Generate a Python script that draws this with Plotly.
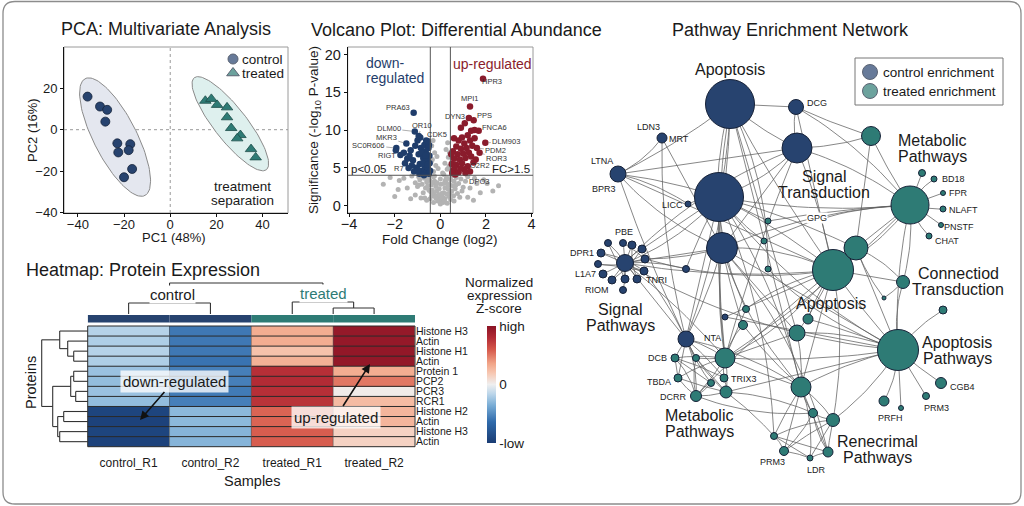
import numpy as np
import plotly.graph_objects as go

W, H = 1024, 506
FONT = "Liberation Sans, Arial, Helvetica, sans-serif"
INK = "#1a1a1a"
NAVY = "#27436f"
TEAL = "#2e7b75"
DOWN_C = "#1f3d6b"
UP_C = "#8a1c2c"
NS_C = "#b3b3b3"

# ---------------- PCA scores ----------------
control_pc1 = [-35.8, -30.4, -27.3, -28.1, -22.9, -22.5, -17.3, -18.0, -16.5, -20.0]
control_pc2 = [16.0, 11.2, 9.6, 3.9, -6.6, -11.0, -7.0, -9.9, -19.0, -23.0]
treated_pc1 = [15.2, 17.8, 20.3, 24.6, 24.6, 26.4, 30.4, 29.0, 35.0, 37.0]
treated_pc2 = [14.0, 14.9, 12.0, 10.8, 6.0, 0.8, -2.6, -4.2, -9.4, -13.4]

# ---------------- Volcano ----------------
fc_cut = 0.44
p_cut = 4.0
down_named = ["PRA63", "DLM00", "OR10", "CDK5", "MKR3", "SC0R606", "RIGT", "R7"]
down_named_fc = [-1.17, -1.12, -0.95, -0.55, -1.49, -1.93, -1.75, -1.39]
down_named_p = [12.3, 9.8, 9.2, 8.5, 8.2, 7.6, 6.7, 4.95]
down_fc = [-1.95, -1.6, -1.45, -1.3, -1.2, -1.1, -1.0, -0.95, -0.9, -0.85, -0.8, -0.75, -0.7, -0.68,
           -0.65, -0.6, -0.58, -0.55, -0.52, -0.5, -0.48, -0.47, -1.05, -1.15, -0.92, -1.55, -1.25,
           -0.72, -0.62, -0.88, -0.98, -0.78, -0.6, -0.5, -1.35, -0.45, -0.82, -0.66, -0.56]
down_p = [7.3, 7.0, 6.2, 7.3, 6.0, 7.9, 8.6, 6.8, 5.5, 7.6, 4.6, 6.3, 8.0, 5.2,
          7.2, 4.4, 6.0, 5.0, 7.6, 4.2, 6.6, 5.6, 5.0, 4.5, 4.2, 5.6, 5.3,
          4.0, 8.6, 9.0, 4.7, 5.6, 6.8, 8.0, 6.6, 4.6, 7.0, 6.6, 5.4]
up_named = ["HPR3", "MPI1", "PPS", "DYN3", "FNCA6", "DLM903", "PDM2", "ROR3", "O2R2", "DPO3"]
up_named_fc = [1.87, 1.3, 1.46, 1.07, 1.68, 1.97, 1.6, 1.72, 1.45, 1.1]
up_named_p = [16.8, 13.1, 11.3, 10.9, 9.9, 8.3, 7.6, 7.0, 5.7, 4.3]
up_fc = [1.5, 1.35, 1.2, 0.95, 0.6, 0.8, 1.05, 1.3, 1.5, 0.7, 0.9, 1.15, 1.4, 0.55, 0.75, 1.0,
         1.25, 0.6, 0.85, 1.1, 1.35, 0.5, 0.7, 0.95, 1.2, 0.55, 0.8, 1.05, 1.3, 0.65, 0.48, 0.9,
         1.25, 1.55, 0.62, 0.52, 0.88]
up_p = [10.0, 9.9, 9.3, 9.0, 8.9, 8.6, 8.2, 8.6, 8.9, 7.8, 7.5, 7.6, 7.9, 7.2, 6.8, 6.9,
        7.0, 6.2, 6.1, 6.3, 6.5, 5.5, 5.4, 5.6, 5.2, 4.6, 4.4, 4.8, 4.5, 4.1, 6.8, 10.3,
        11.6, 6.1, 5.0, 4.3, 4.9]
ns_fc = [0.0, 0.05, -0.05, 0.1, -0.1, 0.15, -0.15, 0.2, -0.2, 0.25, -0.25, 0.3, -0.3, 0.12, -0.12,
         0.2, -0.2, 0.28, -0.28, 0.35, -0.35, 0.4, -0.4, 0.45, -0.45, 0.5, -0.5, 0.38, -0.38, 0.5,
         -0.5, 0.55, -0.55, 0.6, -0.6, 0.7, -0.7, 0.65, -0.65, 0.8, -0.8, 0.9, -0.9, 0.75, -0.75,
         1.0, -1.0, 1.1, -1.1, 0.3, -0.3, 0.45, -0.45, 0.02, 0.0, -0.05, 0.05,
         -0.3, 0.3, -0.2, 0.2, -0.35, 0.35, -0.25, 0.25, -0.38, 0.1, -0.1, 0.38, -0.4, 0.4, -0.15,
         0.15, 0.32, -0.32,
         -2.5, -1.8, -2.0, -1.45, -0.95, -1.1, -1.6, -1.3, -1.85, 2.05, 2.55, 1.75, 1.3, 1.5, 1.2,
         1.9, 1.45, 2.3, 1.6, -2.2, 0.85, -0.85, 0.6, -0.6, 1.2, -1.25,
         0.08, -0.08, 0.18, -0.18, 0.22, -0.22, 0.33, -0.33, 0.42, -0.42, 0.58, -0.58, 0.68, -0.68,
         0.95, -0.95, 0.26, -0.26, 0.15, -0.15]
ns_p = [0.2, 0.5, 0.8, 1.1, 1.3, 1.7, 1.9, 2.3, 2.5, 3.0, 3.2, 3.6, 3.8, 0.4, 0.6,
        0.9, 1.0, 1.5, 1.6, 2.1, 2.0, 2.8, 2.7, 3.4, 3.3, 3.9, 3.8, 1.2, 1.3, 1.9,
        2.0, 2.6, 2.6, 3.2, 3.1, 3.7, 3.6, 2.2, 2.3, 2.9, 2.8, 3.5, 3.4, 1.6, 1.7,
        2.4, 2.5, 3.2, 3.0, 0.3, 0.4, 0.8, 0.9, 2.8, 3.5, 2.2, 1.6,
        4.5, 4.8, 5.3, 5.6, 6.1, 6.4, 7.0, 7.4, 7.9, 4.3, 4.9, 5.2, 5.8, 7.0, 6.5,
        4.1, 8.3, 8.6,
        2.8, 3.3, 1.2, 2.3, 2.7, 1.4, 3.6, 0.9, 2.1, 2.9, 2.6, 1.7, 2.3, 3.6, 1.1,
        3.4, 0.7, 1.9, 2.9, 3.7, 1.1, 1.0, 0.6, 0.7, 3.8, 3.9,
        1.0, 1.4, 0.6, 2.7, 3.3, 1.2, 2.6, 3.0, 1.6, 1.8, 1.3, 3.5, 2.7, 1.0,
        1.9, 3.8, 3.6, 3.9, 2.9, 3.0]

# ---------------- Heatmap ----------------
samples = ["control_R1", "control_R2", "treated_R1", "treated_R2"]
sample_group = ["control", "control", "treated", "treated"]
proteins = ["Histone H3", "Actin", "Histone H1", "Actin", "Protein 1", "PCP2", "PCR3", "RCR1",
            "Histone H2", "Actin", "Histone H3", "Actin"]
z_control_R1 = [-0.18, -0.2, -0.18, -0.2, -0.26, -0.28, -0.26, -0.28, -0.93, -0.95, -0.93, -0.95]
z_control_R2 = [-0.58, -0.58, -0.58, -0.6, -0.55, -0.55, -0.57, -0.55, -0.3, -0.3, -0.32, -0.32]
z_treated_R1 = [0.32, 0.32, 0.22, 0.3, 0.78, 0.8, 0.78, 0.76, 0.56, 0.56, 0.58, 0.58]
z_treated_R2 = [0.95, 0.95, 0.96, 0.96, 0.32, 0.5, 0.02, 0.25, 0.28, 0.28, 0.14, 0.14]
row_tree = ((0, (1, (2, 3, 14), 20), 28),
            (((4, 5, 14), (6, 7, 12), 17), ((8, 9, 24), (10, 11, 28), 30), 35), 46)
col_tree = ((0, 1, 11), (2, (2.5, 3, 6), 12), 31)

# ---------------- Network ----------------
ctrl_nodes = ["apop", "dcg", "sig", "hub1", "hub2", "mrt", "ltna", "licc", "sp",
              "s1", "s2", "s3", "s4", "s5", "s6", "s7", "s8", "s9", "s10", "s11", "s12", "s13",
              "nta", "c1", "c2"]
ctrl_x = [730, 796, 797, 719, 722, 662, 618, 688, 625,
          623, 632, 642, 645, 644, 637, 625, 623, 612, 603, 598, 601, 608,
          686, 686, 725]
ctrl_y = [104, 107, 148, 197, 248, 138, 174, 204, 263,
          243, 245, 249, 259, 271, 279, 279, 290, 280, 274, 264, 253, 243,
          339, 269, 317]
ctrl_size = [49, 15, 30, 49, 31, 10, 16, 6, 17,
             7, 8, 8, 8, 8, 8, 8, 7, 8, 8, 7, 8, 7,
             16, 7, 6]
trt_nodes = ["top", "mp", "bd0", "bd18", "fpr", "nlaft", "pnstf", "chat", "at", "at2", "ct", "tiny",
             "ap", "ap1", "cgb4", "prm3b", "prfh", "ap2", "m2", "m3", "r1", "r2", "r3", "r4", "prm3",
             "ldr", "r5", "m1", "dcb", "mb1", "tbda", "dcrr", "mb2", "trix", "mb3", "x1", "x2",
             "g1", "g2", "g3"]
trt_x = [871, 910, 922, 934, 943, 943, 941, 929, 833, 856, 903, 884,
         898, 943, 941, 926, 884, 901, 808, 797, 801, 813, 833, 774, 784,
         810, 828, 725, 675, 696, 678, 696, 711, 724, 726, 746, 743,
         768, 764, 768]
trt_y = [136, 205, 173, 179, 193, 209, 225, 236, 270, 248, 282, 298,
         350, 310, 383, 396, 401, 408, 319, 333, 387, 413, 420, 436, 451,
         458, 452, 358, 358, 358, 378, 396, 383, 378, 392, 309, 325,
         221, 241, 269]
trt_size = [19, 38, 7, 6, 5, 6, 5, 6, 41, 24, 13, 4,
            41, 8, 11, 7, 10, 5, 10, 16, 20, 9, 13, 7, 9,
            6, 10, 20, 8, 7, 8, 11, 7, 8, 12, 7, 9,
            6, 6, 6]
edges = [
    ("apop", "dcg"), ("apop", "sig"), ("apop", "hub1"), ("apop", "hub2"), ("apop", "nta"),
    ("apop", "at"), ("apop", "r1"), ("apop", "g3"), ("apop", "m3"), ("apop", "m1"), ("apop", "ltna"),
    ("dcg", "sig"), ("dcg", "mp"), ("dcg", "top"), ("dcg", "at"),
    ("sig", "hub1"), ("sig", "ltna"), ("sig", "top"), ("sig", "at"), ("sig", "sp"), ("sig", "mp"),
    ("sig", "m1"), ("sig", "hub2"),
    ("mrt", "ltna"), ("mrt", "hub2"), ("mrt", "nta"),
    ("ltna", "hub1"), ("ltna", "hub2"), ("ltna", "licc"), ("ltna", "nta"), ("ltna", "at"),
    ("licc", "hub1"),
    ("hub1", "hub2"), ("hub1", "mp"), ("hub1", "at"), ("hub1", "ap"), ("hub1", "r1"), ("hub1", "m1"),
    ("hub1", "nta"), ("hub1", "sp"), ("hub1", "g1"), ("hub1", "g2"), ("hub1", "at2"), ("hub1", "x1"),
    ("hub1", "r4"), ("hub1", "c1"),
    ("hub2", "sp"), ("hub2", "at"), ("hub2", "ap"), ("hub2", "m1"), ("hub2", "nta"), ("hub2", "r1"),
    ("hub2", "mp"), ("hub2", "x2"), ("hub2", "m3"), ("hub2", "r5"),
    ("sp", "nta"), ("sp", "at"), ("sp", "m1"), ("sp", "ap"), ("sp", "c1"),
    ("sp", "s1"), ("sp", "s2"), ("sp", "s3"), ("sp", "s4"), ("sp", "s5"), ("sp", "s6"), ("sp", "s7"),
    ("sp", "s8"), ("sp", "s9"), ("sp", "s10"), ("sp", "s11"), ("sp", "s12"), ("sp", "s13"),
    ("s1", "s4"), ("s2", "s6"), ("s3", "s9"), ("s5", "s11"), ("s13", "s7"), ("s12", "s5"),
    ("s3", "hub1"), ("s4", "hub2"), ("s5", "nta"), ("s4", "at"),
    ("nta", "m1"), ("nta", "dcb"), ("nta", "tbda"), ("nta", "dcrr"), ("nta", "mb1"), ("nta", "mb2"),
    ("nta", "trix"), ("nta", "mb3"), ("nta", "r1"),
    ("top", "mp"), ("top", "at2"),
    ("mp", "at"), ("mp", "at2"), ("mp", "ap"), ("mp", "m1"), ("mp", "g2"), ("mp", "ct"), ("mp", "g1"),
    ("mp", "bd0"), ("mp", "bd18"), ("mp", "fpr"), ("mp", "nlaft"), ("mp", "pnstf"), ("mp", "chat"),
    ("at", "at2"), ("at", "ap"), ("at", "r1"), ("at", "m1"), ("at", "ct"), ("at", "m2"), ("at", "m3"),
    ("at", "x1"), ("at", "r3"), ("at", "dcrr"), ("at", "c2"),
    ("at2", "ct"), ("at2", "ap"), ("at2", "tiny"),
    ("ct", "tiny"), ("ct", "ap"),
    ("ap", "ap1"), ("ap", "cgb4"), ("ap", "prm3b"), ("ap", "prfh"), ("ap", "ap2"), ("ap", "r1"),
    ("ap", "m1"), ("ap", "m3"), ("ap", "r3"), ("ap", "m2"), ("ap", "mb3"), ("ap", "g3"), ("ap", "c2"),
    ("m1", "dcb"), ("m1", "mb1"), ("m1", "trix"), ("m1", "mb3"), ("m1", "r1"), ("m1", "x1"),
    ("m1", "x2"), ("m1", "m3"), ("m1", "tbda"), ("m1", "dcrr"),
    ("r1", "r2"), ("r1", "r3"), ("r1", "r4"), ("r1", "prm3"), ("r1", "ldr"), ("r1", "r5"),
    ("r1", "m3"), ("r1", "x2"),
    ("r2", "r3"), ("r2", "prm3"), ("r3", "prm3"), ("r3", "ldr"), ("r4", "prm3"), ("r4", "r5"),
    ("r5", "ldr"), ("prm3", "ldr"), ("r2", "r5"), ("r4", "r3"), ("r3", "r5"), ("r4", "ldr"),
    ("dcb", "dcrr"), ("dcb", "tbda"), ("tbda", "dcrr"), ("dcb", "trix"), ("mb1", "dcrr"),
    ("mb2", "dcrr"), ("tbda", "mb3"), ("dcb", "mb2"), ("trix", "mb3"), ("mb1", "mb3"),
    ("dcrr", "mb3"), ("mb3", "r4"), ("dcrr", "r2"), ("mb3", "r2"),
]

fig = go.Figure()


def ann(text, x, y, size, color=INK, xanchor="center", angle=0, bg=None, **kw):
    fig.add_annotation(text=text, x=x, y=y, xref="x4", yref="y4", showarrow=False,
                       xanchor=xanchor, yanchor="middle", textangle=angle,
                       font=dict(size=size, color=color, family=FONT),
                       bgcolor=bg, borderpad=0, **kw)


def ann_lines(lines, x, y, size, color=INK, gap=1.06, xanchor="center"):
    n = len(lines)
    for i, ln in enumerate(lines):
        ann(ln, x, y + (i - (n - 1) / 2) * size * gap, size, color, xanchor)


def ellipse(xs, ys, n_std=1.85, pad=4.5, n=120):
    xs, ys = np.asarray(xs), np.asarray(ys)
    vals, vecs = np.linalg.eigh(np.cov(xs, ys))
    semi = n_std * np.sqrt(vals) + pad
    t = np.linspace(0, 2 * np.pi, n)
    pts = vecs @ np.vstack([semi[0] * np.cos(t), semi[1] * np.sin(t)])
    return pts[0] + xs.mean(), pts[1] + ys.mean()


# ---------------- PCA panel ----------------
for xs, ys, fill in [(control_pc1, control_pc2, "#e4e7ef"), (treated_pc1, treated_pc2, "#def0ee")]:
    ex, ey = ellipse(xs, ys)
    fig.add_trace(go.Scatter(x=ex, y=ey, mode="lines", fill="toself", fillcolor=fill,
                             line=dict(color="#8a8a8a", width=1), xaxis="x", yaxis="y",
                             hoverinfo="skip"))
fig.add_trace(go.Scatter(x=control_pc1, y=control_pc2, mode="markers", name="control",
                         marker=dict(symbol="circle", size=9, color=NAVY,
                                     line=dict(color="#15233a", width=0.8)),
                         xaxis="x", yaxis="y"))
fig.add_trace(go.Scatter(x=treated_pc1, y=treated_pc2, mode="markers", name="treated",
                         marker=dict(symbol="triangle-up", size=10, color=TEAL,
                                     line=dict(color="#1d4d49", width=0.8)),
                         xaxis="x", yaxis="y"))
fig.add_shape(type="line", xref="x", yref="y domain", x0=0, x1=0, y0=0, y1=1,
              line=dict(color="#999", width=1, dash="dot"), layer="below")
fig.add_shape(type="line", xref="x domain", yref="y", x0=0, x1=1, y0=0, y1=0,
              line=dict(color="#999", width=1, dash="dot"), layer="below")
fig.add_shape(type="rect", xref="x domain", yref="y domain", x0=0, x1=1, y0=0, y1=1,
              line=dict(color="#9a9a9a", width=1), layer="below")

# ---------------- Volcano panel ----------------
fig.add_trace(go.Scatter(x=ns_fc, y=ns_p, mode="markers", marker=dict(size=5, color=NS_C),
                         xaxis="x2", yaxis="y2"))
fig.add_trace(go.Scatter(x=down_fc + down_named_fc, y=down_p + down_named_p, mode="markers",
                         marker=dict(size=6.5, color=DOWN_C), xaxis="x2", yaxis="y2"))
fig.add_trace(go.Scatter(x=up_fc + up_named_fc, y=up_p + up_named_p, mode="markers",
                         marker=dict(size=6.5, color=UP_C), xaxis="x2", yaxis="y2"))
for xv in (-fc_cut, fc_cut):
    fig.add_shape(type="line", xref="x2", yref="y2 domain", x0=xv, x1=xv, y0=0, y1=1,
                  line=dict(color="#555", width=1))
fig.add_shape(type="line", xref="x2 domain", yref="y2", x0=0, x1=1, y0=p_cut, y1=p_cut,
              line=dict(color="#555", width=1))
fig.add_shape(type="rect", xref="x2 domain", yref="y2 domain", x0=0, x1=1, y0=0, y1=1,
              line=dict(color="#9a9a9a", width=1), layer="below")
down_off = [(-16, -5), (-26, -3), (3, -11), (9, -7), (-20, -6), (-28, -3), (-13, 1), (-10, 0)]
up_off = [(9, 3), (0, -8), (11, -5), (-10, -7), (16, -3), (21, -1), (19, 2), (17, 6), (7, 3), (14, 8)]
for names, fcs, ps, offs in [(down_named, down_named_fc, down_named_p, down_off),
                             (up_named, up_named_fc, up_named_p, up_off)]:
    for nm, fx, py, (ax, ay) in zip(names, fcs, ps, offs):
        fig.add_annotation(text=nm, x=fx, y=py, xref="x2", yref="y2", ax=ax, ay=ay,
                           showarrow=True, arrowhead=0, arrowwidth=0.6, arrowcolor="#777",
                           standoff=3, font=dict(size=7.5, color="#333", family=FONT))

# ---------------- Heatmap panel ----------------
z = np.array([z_control_R1, z_control_R2, z_treated_R1, z_treated_R2]).T
colorscale = [[0.0, "#1a3c73"], [0.18, "#2f6aab"], [0.32, "#78acd5"], [0.42, "#bcd6ea"],
              [0.5, "#efefef"], [0.6, "#f7c6b0"], [0.68, "#f1a487"], [0.8, "#d5574a"],
              [0.9, "#b22b35"], [1.0, "#8b1325"]]
fig.add_trace(go.Heatmap(z=z, x=list(range(len(samples))), y=list(range(len(proteins))),
                         colorscale=colorscale, zmin=-1, zmax=1, xaxis="x3", yaxis="y3",
                         colorbar=dict(x=487 / W, xanchor="left", y=1 - 384.5 / H, yanchor="middle",
                                       len=117 / H, lenmode="fraction", thickness=9,
                                       xpad=0, ypad=0, outlinewidth=0, ticks="",
                                       tickvals=[-1, 0, 1], ticktext=["-low", "0", "high"],
                                       tickfont=dict(size=13.5, color=INK, family=FONT))))
for i in range(len(proteins) - 1):
    fig.add_shape(type="line", xref="x3 domain", yref="y3", x0=0, x1=1, y0=i + 0.5, y1=i + 0.5,
                  line=dict(color="#2a2a2a", width=1))
for j in range(len(samples) - 1):
    fig.add_shape(type="line", xref="x3", yref="y3 domain", x0=j + 0.5, x1=j + 0.5, y0=0, y1=1,
                  line=dict(color="#555", width=0.6))
fig.add_shape(type="rect", xref="x3 domain", yref="y3 domain", x0=0, x1=1, y0=0, y1=1,
              line=dict(color="#2a2a2a", width=1))
grp_color = {"control": NAVY, "treated": TEAL}
for j, g in enumerate(sample_group):
    fig.add_shape(type="rect", xref="x3", yref="y4", x0=j - 0.5, x1=j + 0.5, y0=315, y1=322.5,
                  line=dict(width=0), fillcolor=grp_color[g])


def dendro(tree, segs):
    if not isinstance(tree, tuple):
        return tree, 0.0
    left, right, h = tree
    pl, hl = dendro(left, segs)
    pr, hr = dendro(right, segs)
    segs += [((pl, hl), (pl, h)), ((pr, hr), (pr, h)), ((pl, h), (pr, h))]
    return (pl + pr) / 2, h


hm_left, hm_right, hm_top, hm_bot = 87.7, 415.0, 326.0, 446.7
row_h = (hm_bot - hm_top) / len(proteins)
col_w = (hm_right - hm_left) / len(samples)
dx, dy = [], []
segs = []
dendro(row_tree, segs)
for (p0, h0), (p1, h1) in segs:
    dx += [hm_left - h0, hm_left - h1, None]
    dy += [hm_top + (p0 + 0.5) * row_h, hm_top + (p1 + 0.5) * row_h, None]
segs = []
dendro(col_tree, segs)
for (p0, h0), (p1, h1) in segs:
    dx += [hm_left + (p0 + 0.5) * col_w, hm_left + (p1 + 0.5) * col_w, None]
    dy += [314 - h0, 314 - h1, None]
fig.add_trace(go.Scatter(x=dx, y=dy, mode="lines", line=dict(color="#333", width=1.1),
                         xaxis="x4", yaxis="y4", hoverinfo="skip"))

# ---------------- Network panel ----------------
pos = {}
for names, xs, ys in [(ctrl_nodes, ctrl_x, ctrl_y), (trt_nodes, trt_x, trt_y)]:
    for nm, xv, yv in zip(names, xs, ys):
        pos[nm] = (xv, yv)
curv = [0.0, 0.07, -0.05, 0.11, -0.09, 0.03, 0.0, -0.12]
ex, ey = [], []
t = np.linspace(0, 1, 18)
for k, (a, b) in enumerate(edges):
    (x0, y0), (x1, y1) = pos[a], pos[b]
    c = curv[k % len(curv)]
    cx, cy = (x0 + x1) / 2 - c * (y1 - y0), (y0 + y1) / 2 + c * (x1 - x0)
    ex += list((1 - t) ** 2 * x0 + 2 * (1 - t) * t * cx + t ** 2 * x1) + [None]
    ey += list((1 - t) ** 2 * y0 + 2 * (1 - t) * t * cy + t ** 2 * y1) + [None]
fig.add_trace(go.Scatter(x=ex, y=ey, mode="lines", line=dict(color="rgba(95,95,95,0.75)", width=1),
                         xaxis="x4", yaxis="y4", hoverinfo="skip"))
for xs, ys, ss, col in [(ctrl_x, ctrl_y, ctrl_size, NAVY), (trt_x, trt_y, trt_size, TEAL)]:
    fig.add_trace(go.Scatter(x=xs, y=ys, mode="markers",
                             marker=dict(size=ss, color=col, line=dict(color="#172238", width=1),
                                         opacity=1),
                             xaxis="x4", yaxis="y4"))

# legends (drawn by hand so glyph/text spacing matches)
fig.add_shape(type="rect", xref="x4", yref="y4", x0=855, x1=1003, y0=58, y1=105,
              line=dict(color="#777", width=1), fillcolor="white", layer="below")
fig.add_trace(go.Scatter(x=[233, 233, 870, 870], y=[59, 73, 72, 91], mode="markers",
                         marker=dict(symbol=["circle", "triangle-up", "circle", "circle"],
                                     size=[10, 11, 15, 15], color=[NAVY, TEAL, NAVY, TEAL],
                                     line=dict(color="#172238", width=1)),
                         xaxis="x4", yaxis="y4", hoverinfo="skip"))
ann("control", 241, 59, 13.5, xanchor="left")
ann("treated", 241, 73, 13.5, xanchor="left")
ann("control enrichment", 882, 72, 13.5, xanchor="left")
ann("treated enrichment", 882, 91, 13.5, xanchor="left")

# ---------------- Text ----------------
ann("PCA: Multivariate Analysis", 166, 29, 18)
ann("Volcano Plot: Differential Abundance", 456, 30, 18)
ann("Pathway Enrichment Network", 790, 30, 18)
ann("Heatmap: Protein Expression", 25, 270, 18, xanchor="left")

ann("PC1 (48%)", 174, 237, 13)
ann("PC2 (16%)", 32, 130, 13, angle=-90)
ann_lines(["treatment", "separation"], 242, 193.5, 13.5, gap=0.98)

ann("Fold Change (log2)", 440, 239, 13.5)
ann("Significance (-log<sub>10</sub> P-value)", 314, 130, 13.5, angle=-90)
ann_lines(["down-", "regulated"], 365, 70.5, 14, color="#1f3d6b", xanchor="left", gap=1.07)
ann("up-regulated", 492, 64, 14, color=UP_C)
ann("p<0.05", 350, 169, 11.5, xanchor="left")
ann("FC>1.5", 531, 169, 11.5, xanchor="right")

ann("control", 172, 294, 15, bg="white")
ann("treated", 323, 293, 15, color=TEAL, bg="white")
ann("Samples", 252, 481, 14.5)
ann("Proteins", 31, 383, 14.5, angle=-90)
ann_lines(["Normalized", "expression", "Z-score"], 499, 295.5, 13.5, gap=0.99)
for label, tip, txt_pos in [("down-regulated", (140, 420), (174, 381)),
                            ("up-regulated", (370, 364), (336, 417))]:
    fig.add_annotation(text=label, x=tip[0], y=tip[1], xref="x4", yref="y4",
                       ax=txt_pos[0] - tip[0], ay=txt_pos[1] - tip[1], showarrow=True,
                       arrowhead=2, arrowsize=1.1, arrowwidth=1.6, arrowcolor="#111",
                       bgcolor="rgba(255,255,255,0.78)", borderpad=2,
                       font=dict(size=15, color=INK, family=FONT))

for lines, x, y in [(["Apoptosis"], 730, 69), (["Signal", "Transduction"], 824, 184.5),
                    (["Metabolic", "Pathways"], 932, 148.5), (["Apoptosis"], 831, 303),
                    (["Connectiod", "Transduction"], 958, 281.5),
                    (["Apoptosis", "Pathways"], 957, 350.5), (["Signal", "Pathways"], 620, 317.5),
                    (["Metabolic", "Pathways"], 699, 423.5), (["Renecrimal", "Pathways"], 877, 449.5)]:
    ann_lines(lines, x, y, 16, gap=1.06)

for text, x, y in [("DCG", 817, 103), ("LDN3", 648, 127), ("MRT", 679, 139), ("LTNA", 602, 161),
                   ("BPR3", 604, 189), ("LICC", 672, 205), ("PBE", 624, 232), ("DPR1", 582, 253),
                   ("L1A7", 585, 274), ("RIOM", 597, 290), ("TNRI", 656, 280), ("NTA", 712, 338),
                   ("DCB", 657, 358), ("TBDA", 659, 382), ("DCRR", 673, 397), ("TRIX3", 744, 379),
                   ("PRM3", 772, 462), ("LDR", 816, 470), ("PRFH", 890, 418), ("PRM3", 936, 408),
                   ("CGB4", 962, 387), ("CHAT", 947, 241), ("PNSTF", 959, 227), ("NLAFT", 963, 210),
                   ("FPR", 958, 193), ("BD18", 953, 179)]:
    ann(text, x, y, 9, color="#222")
ann("GPG", 817, 218, 9, color="#222", bg="white")

# outer rounded frame
fig.add_shape(type="path", xref="x4", yref="y4",
              path="M 15,1.5 L 1009,1.5 Q 1021,1.5 1021,13.5 L 1021,492 Q 1021,504 1009,504 "
                   "L 15,504 Q 3,504 3,492 L 3,13.5 Q 3,1.5 15,1.5 Z",
              line=dict(color="#8c8c8c", width=1.3))

axis_common = dict(showline=True, linecolor="#111", linewidth=1, ticks="outside", ticklen=3,
                   tickcolor="#111", showgrid=False, zeroline=False, automargin=False,
                   tickfont=dict(size=13, color=INK, family=FONT))
big_ticks = {**axis_common, "tickfont": dict(size=14.5, color=INK, family=FONT)}
fig.update_layout(
    width=W, height=H, margin=dict(l=0, r=0, t=0, b=0, autoexpand=False), showlegend=False,
    paper_bgcolor="white", plot_bgcolor="rgba(0,0,0,0)",
    font=dict(family=FONT, color=INK),
    xaxis=dict(domain=[64 / W, 288 / W], range=[-46, 51], tickvals=[-40, -20, 0, 20, 40],
               anchor="y", ticklabelstandoff=-4, **axis_common),
    yaxis=dict(domain=[1 - 213 / H, 1 - 47 / H], range=[-40.3, 40], tickvals=[-40, -20, 0, 20],
               anchor="x", **axis_common),
    xaxis2=dict(domain=[347.7 / W, 533 / W], range=[-4.06, 4.06], tickvals=[-4, -2, 0, 2, 4],
                anchor="y2", ticklabelstandoff=-5, **big_ticks),
    yaxis2=dict(domain=[1 - 213 / H, 1 - 47 / H], range=[-1, 21], tickvals=[0, 5, 10, 15, 20],
                anchor="x2", **big_ticks),
    xaxis3=dict(domain=[hm_left / W, hm_right / W], range=[-0.5, 3.5], anchor="y3",
                tickvals=list(range(len(samples))), ticktext=samples, ticks="outside",
                ticklen=5, tickcolor="rgba(0,0,0,0)", showgrid=False, zeroline=False,
                showline=False, automargin=False, tickfont=dict(size=12, color=INK, family=FONT)),
    yaxis3=dict(domain=[1 - hm_bot / H, 1 - hm_top / H], range=[11.5, -0.5], anchor="x3",
                side="right", tickvals=list(range(len(proteins))), ticktext=proteins,
                ticks="", showgrid=False, zeroline=False, showline=False, automargin=False,
                tickfont=dict(size=10.5, color=INK, family=FONT)),
    xaxis4=dict(domain=[0, 1], range=[0, W], visible=False, anchor="y4", fixedrange=True,
                automargin=False),
    yaxis4=dict(domain=[0, 1], range=[H, 0], visible=False, anchor="x4", fixedrange=True,
                automargin=False),
)

# the page body has a default 8px margin; remove it so the figure sits at the window origin
fig.write_html("out.html", config={"displayModeBar": False},
               post_script="document.body.style.margin='0';")
